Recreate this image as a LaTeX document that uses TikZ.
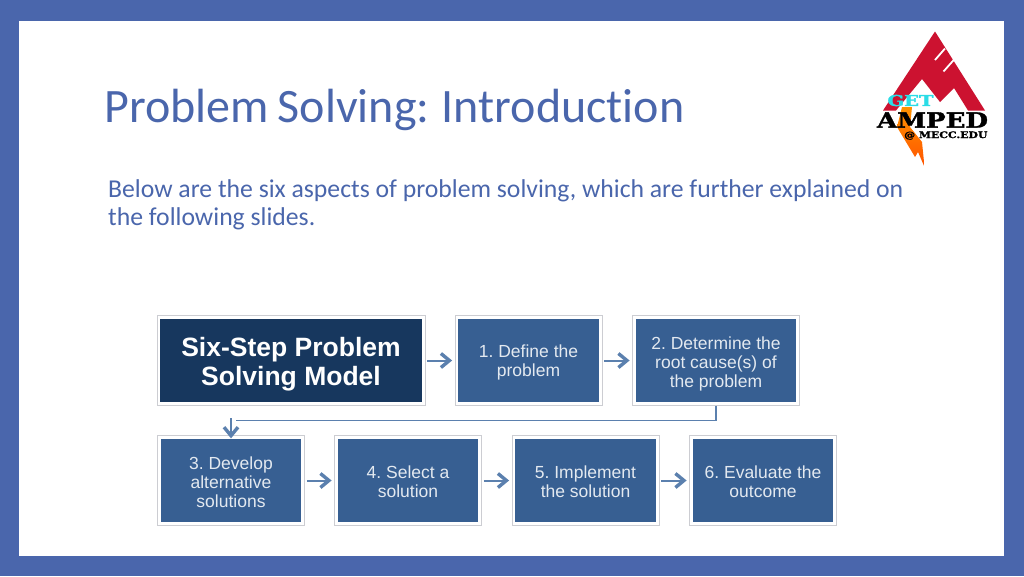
\documentclass[tikz,border=0pt]{standalone}
\usepackage{fontspec}
\setmainfont{Carlito}
\newfontfamily\titlef[WordSpace=0.8,Ligatures=NoCommon]{Carlito}
\newfontfamily\arialf{Liberation Sans}
\newfontfamily\slab[FakeBold=1.6]{DejaVu Serif}
\definecolor{slideblue}{HTML}{4A66AC}
\definecolor{stepblue}{HTML}{375F92}
\definecolor{headblue}{HTML}{17375E}
\definecolor{edgegray}{HTML}{CCCDD2}
\definecolor{arrowblue}{HTML}{5B80AE}
\definecolor{logored}{HTML}{CC1230}
\definecolor{logocyan}{HTML}{2ADCE6}
\usetikzlibrary{arrows.meta}
\newcommand\droptext[2]{\frenchspacing\raisebox{0pt}[\dimexpr\height+#1\relax][\depth]{\begin{tabular}{@{}c@{}}#2\end{tabular}}}
\tikzset{
  x=1pt,y=-1pt,
  stepbox/.style={rectangle,draw=edgegray,line width=0.8pt,fill=white,
    minimum width=#1,minimum height=89.5,inner sep=0,text=white!86!stepblue,
    font=\arialf\fontsize{17.5}{19.2}\selectfont,
    path picture={\fill[stepblue] ([shift={(3.4,3.4)}]path picture bounding box.north west) rectangle ([shift={(-3.4,-3.4)}]path picture bounding box.south east);}},
  stepbox/.default=147,
  headbox/.style={stepbox=268,text=white,font=\arialf\bfseries\fontsize{26.5}{29}\selectfont,
    path picture={\fill[headblue] ([shift={(3.4,3.4)}]path picture bounding box.north west) rectangle ([shift={(-3.4,-3.4)}]path picture bounding box.south east);}},
  linkhead/.style={draw=arrowblue,line width=2pt,-{Straight Barb[length=8.5pt,width=14pt,line width=3.4pt]}},
  elbow/.style={draw=arrowblue,line width=1.4pt},
}
\begin{document}
\begin{tikzpicture}
\useasboundingbox (0,0) rectangle (1024,576);
\fill[slideblue] (0,0) rectangle (1024,576);
\fill[white] (19,21) rectangle (1004,556);
\node[anchor=base west,inner sep=0,text=slideblue,font=\titlef\fontsize{48}{58}\selectfont] (title) at (104.5,122) {Problem Solving: Introduction};
\node[anchor=north west,inner sep=0,text=slideblue,align=left,font=\fontsize{25.7}{28}\selectfont] (body) at (108,179.5) {Below are the six aspects of problem solving, which are further explained on\\the following slides.};
% logo
\shade[top color=orange!85!yellow,bottom color=red!35!orange] (902,107) -- (912,107) -- (910,127) -- (922,142) -- (924.5,167) -- (918,152) -- (915,157) -- (897,127) -- cycle;
\fill[logored] (935,31.5) -- (985,110.5) -- (968,110.5) -- (954,88) -- (940,102) -- (922,79) -- (896,110.5) -- (883,110.5) -- cycle;
\draw[white,line width=1.8pt] (935,60) -- (945,48.5) (943.5,71.5) -- (955,58.5);
\node[inner sep=0,text=logocyan,font=\slab\bfseries\fontsize{15}{15}\selectfont,xscale=1.3] (logoget) at (910.5,100.5) {GET};
\node[inner sep=0,text=black,font=\slab\bfseries\fontsize{21}{22}\selectfont,xscale=1.24] (logoamped) at (932.5,120) {AMPED};
\node[anchor=west,inner sep=0,text=black,font=\slab\bfseries\fontsize{9}{10}\selectfont,xscale=1.21] (logomecc) at (904,135.5) {@ MECC.EDU};
% boxes
\node[headbox] (head) at (291,360.5) {\droptext{10pt}{Six-Step Problem\\Solving Model}};
\node[stepbox] (s1) at (528.5,360.5) {\droptext{6pt}{1. Define the\\problem}};
\node[stepbox=167] (s2) at (716,360.5) {\droptext{8pt}{2. Determine the\\root cause(s) of\\the problem}};
\node[stepbox] (s3) at (231,480.5) {\droptext{8pt}{3. Develop\\alternative\\solutions}};
\node[stepbox] (s4) at (408,480.5) {\droptext{8pt}{4. Select a\\solution}};
\node[stepbox] (s5) at (585.5,480.5) {\droptext{8pt}{5. Implement\\the solution}};
\node[stepbox] (s6) at (763,480.5) {\droptext{8pt}{6. Evaluate the\\outcome}};
% connectors
\foreach \a/\b in {head/s1,s1/s2,s3/s4,s4/s5,s5/s6}{
  \draw[linkhead] ([xshift=2pt]\a.east) -- ([xshift=-2.5pt]\b.west);
}
\coordinate (elbowend) at (236,420.5);
\draw[elbow] (s2.south) |- (elbowend);
\coordinate (elbowtop) at (231,418);
\draw[linkhead] (elbowtop) -- ([yshift=-3pt]s3.north);
\end{tikzpicture}
\end{document}
